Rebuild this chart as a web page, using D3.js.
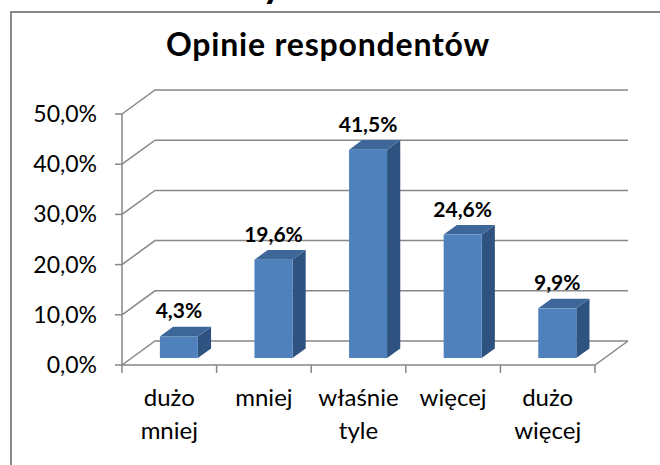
<!DOCTYPE html>
<html>
<head>
<meta charset="utf-8">
<script src="https://cdn.jsdelivr.net/npm/d3@7"></script>
<style>
  body { margin: 0; background: #fff; }
  text { font-family: Lato, "Noto Sans", sans-serif; fill: #000; }
</style>
</head>
<body>
<div id="chart"></div>
<script>
// data
const categories = ["dużo mniej", "mniej", "właśnie tyle", "więcej", "dużo więcej"];
const values = [4.3, 19.6, 41.5, 24.6, 9.9];
const labels = ["4,3%", "19,6%", "41,5%", "24,6%", "9,9%"];
const yTicks = [0, 10, 20, 30, 40, 50];

const width = 660,
  height = 465;

const svg = d3
  .select("#chart")
  .append("svg")
  .attr("width", width)
  .attr("height", height);

// 3D offsets: floor depth and bar position inside it
const depth = { dx: 33, dy: -24 };
const barFront = 0.29, barBack = 0.69;
const barWidth = 38;

const x = d3.scaleBand().domain(categories).range([122, 595]).padding(0);
const y = d3.scaleLinear().domain([0, 50]).range([365, 114]);

const grid = "#878787";

// fragment of text above the frame (cut off)
svg.append("text")
  .attr("x", 262)
  .attr("y", -3)
  .style("font-size", "40px")
  .style("font-weight", "bold")
  .text("y");

// chart frame (left + top edges)
svg.append("path")
  .attr("d", "M11,465V12H660")
  .attr("fill", "none")
  .attr("stroke", "#898989")
  .attr("stroke-width", 2);

// title
svg.append("text")
  .attr("x", 328)
  .attr("y", 56)
  .attr("text-anchor", "middle")
  .style("font-size", "32px")
  .style("font-weight", "bold")
  .style("letter-spacing", "0.8px")
  .text("Opinie respondentów");

// back wall gridlines with side wall diagonals
const x0 = x.range()[0], x1 = x.range()[1];
svg.append("g")
  .selectAll("path")
  .data(yTicks)
  .join("path")
  .attr("d", (d) => {
    const yy = y(d);
    return `M${x0},${yy}L${x0 + depth.dx},${yy + depth.dy}H${x1 + depth.dx}`;
  })
  .attr("fill", "none")
  .attr("stroke", grid)
  .attr("stroke-width", 1.5);

// floor: front edge and right diagonal
svg.append("path")
  .attr("d", `M${x0},${y(0)}H${x1}L${x1 + depth.dx},${y(0) + depth.dy}`)
  .attr("fill", "none")
  .attr("stroke", grid)
  .attr("stroke-width", 1.5);

// y axis line and ticks
svg.append("line")
  .attr("x1", x0).attr("x2", x0)
  .attr("y1", y(50)).attr("y2", y(0))
  .attr("stroke", grid)
  .attr("stroke-width", 1.5);

svg.append("g")
  .selectAll("line")
  .data(yTicks)
  .join("line")
  .attr("x1", x0 - 7).attr("x2", x0)
  .attr("y1", (d) => y(d)).attr("y2", (d) => y(d))
  .attr("stroke", grid)
  .attr("stroke-width", 1.5);

svg.append("g")
  .selectAll("text")
  .data(yTicks)
  .join("text")
  .attr("x", 97)
  .attr("y", (d) => y(d) + 8)
  .attr("text-anchor", "end")
  .style("font-size", "23px")
  .text((d) => d3.format(".1f")(d).replace(".", ",") + "%");

// category ticks
const boundaries = categories.map((c) => x(c)).concat([x1]);
svg.append("g")
  .selectAll("line")
  .data(boundaries)
  .join("line")
  .attr("x1", (d) => d).attr("x2", (d) => d)
  .attr("y1", y(0)).attr("y2", y(0) + 8)
  .attr("stroke", grid)
  .attr("stroke-width", 1.5);

// category labels, wrapped on spaces
svg.append("g")
  .selectAll("text")
  .data(categories)
  .join("text")
  .attr("x", (d) => x(d) + x.bandwidth() / 2)
  .attr("y", 406)
  .attr("text-anchor", "middle")
  .style("font-size", "24px")
  .each(function (d) {
    const words = d.split(" ");
    d3.select(this)
      .selectAll("tspan")
      .data(words)
      .join("tspan")
      .attr("x", x(d) + x.bandwidth() / 2)
      .attr("dy", (w, i) => (i === 0 ? 0 : 33))
      .text((w) => w);
  });

// 3D bars
const fx = barFront * depth.dx, fy = barFront * depth.dy;
const bdx = (barBack - barFront) * depth.dx, bdy = (barBack - barFront) * depth.dy;

const bars = svg.append("g")
  .selectAll("g")
  .data(categories.map((c, i) => ({ cat: c, value: values[i], label: labels[i] })))
  .join("g");

function barGeom(d) {
  const left = x(d.cat) + (x.bandwidth() - barWidth) / 2 + fx;
  const right = left + barWidth;
  const bottom = y(0) + fy;
  const top = y(d.value) + fy;
  return { left, right, bottom, top };
}

// side face
bars.append("path")
  .attr("d", (d) => {
    const g = barGeom(d);
    return `M${g.right},${g.bottom}L${g.right + bdx},${g.bottom + bdy}L${g.right + bdx},${g.top + bdy}L${g.right},${g.top}Z`;
  })
  .attr("fill", "#2f5380");

// top face
bars.append("path")
  .attr("d", (d) => {
    const g = barGeom(d);
    return `M${g.left},${g.top}L${g.left + bdx},${g.top + bdy}L${g.right + bdx},${g.top + bdy}L${g.right},${g.top}Z`;
  })
  .attr("fill", "#3d6699");

// front face
bars.append("rect")
  .attr("x", (d) => barGeom(d).left)
  .attr("y", (d) => barGeom(d).top)
  .attr("width", barWidth)
  .attr("height", (d) => barGeom(d).bottom - barGeom(d).top)
  .attr("fill", "#4f81bd");

// value labels
bars.append("text")
  .attr("x", (d) => barGeom(d).left + barWidth / 2)
  .attr("y", (d) => barGeom(d).top - 18)
  .attr("text-anchor", "middle")
  .style("font-size", "21px")
  .style("font-weight", "bold")
  .text((d) => d.label);
</script>
</body>
</html>
